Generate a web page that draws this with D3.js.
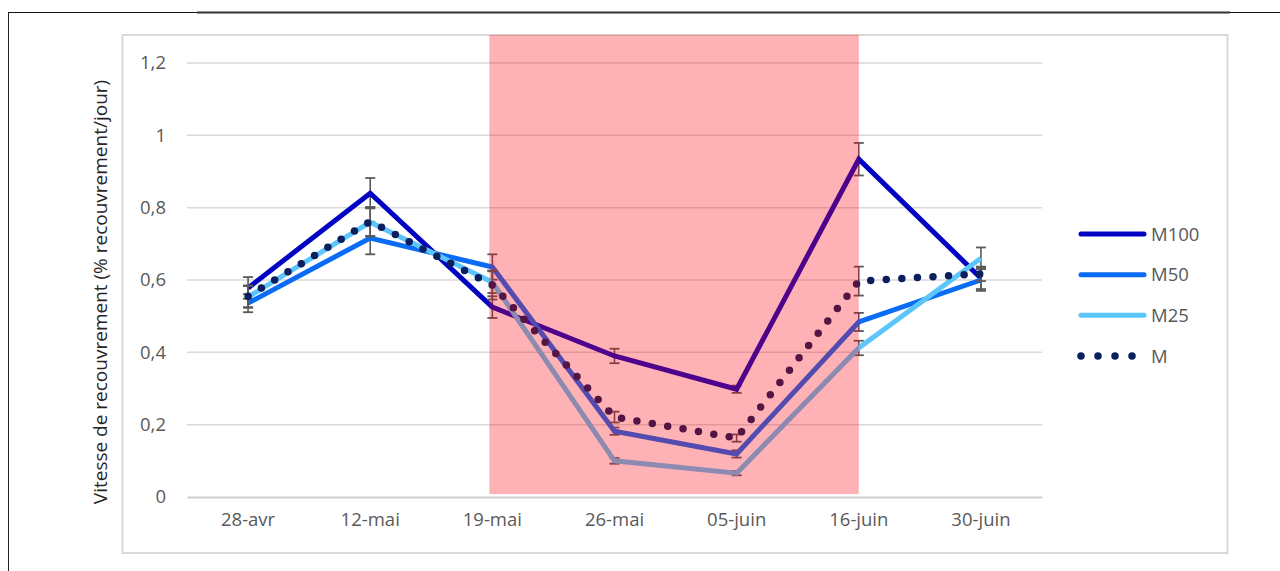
<!DOCTYPE html>
<html>
<head>
<meta charset="utf-8">
<script src="https://cdn.jsdelivr.net/npm/d3@7"></script>
<style>
  html, body { margin: 0; padding: 0; background: #fff; }
  svg { display: block; font-family: "Open Sans", "Noto Sans", sans-serif; }
</style>
</head>
<body>
<svg id="chart" width="1280" height="571"></svg>
<script>
// Sampling dates
const categories = ["28-avr", "12-mai", "19-mai", "26-mai", "05-juin", "16-juin", "30-juin"];

// Recovery rate (% recouvrement/jour) per treatment
const m100 = [0.578, 0.840, 0.525, 0.390, 0.298, 0.934, 0.605];
const m50  = [0.536, 0.716, 0.636, 0.182, 0.119, 0.484, 0.600];
const m25  = [0.553, 0.760, 0.594, 0.100, 0.066, 0.412, 0.660];
const m    = [0.555, 0.762, 0.586, 0.221, 0.163, 0.597, 0.617];

// Standard errors
const m100Err = [0.030, 0.042, 0.030, 0.020, 0.010, 0.045, 0.030];
const m50Err  = [0.025, 0.045, 0.035, 0.010, 0.010, 0.025, 0.030];
const m25Err  = [0.030, 0.040, 0.030, 0.008, 0.006, 0.020, 0.030];
const mErr    = [0.030, 0.040, 0.040, 0.015, 0.010, 0.040, 0.020];

const yTicks = [0, 0.2, 0.4, 0.6, 0.8, 1, 1.2];

// Shaded period, in category-index units (19-mai .. 16-juin)
const shadeFrom = 1.975;
const shadeTo = 5.0;
const shadeLow = 0.008;
const shadeHigh = 1.278;

const seriesNames = ["M100", "M50", "M25", "M"];
const seriesColors = ["#0202C2", "#0A6CF5", "#5CC6FA", "#0B1F5E"];

const series = [
  { name: seriesNames[0], values: m100, err: m100Err, color: seriesColors[0], dotted: false },
  { name: seriesNames[1], values: m50,  err: m50Err,  color: seriesColors[1], dotted: false },
  { name: seriesNames[2], values: m25,  err: m25Err,  color: seriesColors[2], dotted: false },
  { name: seriesNames[3], values: m,    err: mErr,    color: seriesColors[3], dotted: true }
];

const FONT = "'Open Sans', sans-serif";
const svg = d3.select("#chart");

// Outer page frame lines
svg.append("line").attr("x1", 8).attr("x2", 1280).attr("y1", 12.5).attr("y2", 12.5)
  .attr("stroke", "#111").attr("stroke-width", 1);
svg.append("line").attr("x1", 197).attr("x2", 1230).attr("y1", 12.5).attr("y2", 12.5)
  .attr("stroke", "#333").attr("stroke-width", 2.2);
svg.append("line").attr("x1", 8.5).attr("x2", 8.5).attr("y1", 12).attr("y2", 571)
  .attr("stroke", "#222").attr("stroke-width", 1);

// Chart container border
svg.append("rect").attr("x", 122.5).attr("y", 35).attr("width", 1105).attr("height", 518)
  .attr("fill", "#fff").attr("stroke", "#D9D9D9").attr("stroke-width", 2);

const x = d3.scaleBand().domain(categories).range([187, 1042]);
const cx = c => x(c) + x.bandwidth() / 2;
const xi = d3.scaleLinear().domain([0, categories.length - 1])
  .range([cx(categories[0]), cx(categories[categories.length - 1])]);
const y = d3.scaleLinear().domain([0, 1.2]).range([497, 63]);

// Y tick labels
const yAxis = d3.axisLeft(y).tickValues(yTicks).tickSize(0)
  .tickFormat(d => String(d).replace(".", ","));
const gy = svg.append("g").attr("transform", "translate(187,0)").call(yAxis);
gy.select(".domain").remove();
gy.selectAll(".tick text").attr("x", -21).attr("fill", "#595959")
  .style("font-size", "18.5px").style("font-family", FONT);

// Horizontal gridlines
svg.append("g").selectAll("line").data(yTicks.filter(d => d > 0)).join("line")
  .attr("x1", 187).attr("x2", 1042)
  .attr("y1", d => y(d)).attr("y2", d => y(d))
  .attr("stroke", "#D9D9D9").attr("stroke-width", 1.5);

// Category axis (baseline)
const xAxis = d3.axisBottom(x).tickSize(0).tickPadding(16);
const gx = svg.append("g").attr("transform", `translate(0,${y(0)})`).call(xAxis);
gx.select(".domain").attr("stroke", "#D0D0D0").attr("stroke-width", 1.8);
gx.selectAll(".tick text").attr("fill", "#595959")
  .style("font-size", "18.5px").style("font-family", FONT);

// Y axis title
svg.append("text")
  .attr("transform", `translate(107,${(y(0) + y(1.2)) / 2 + 12}) rotate(-90)`)
  .attr("text-anchor", "middle")
  .attr("fill", "#262626")
  .style("font-size", "19px")
  .style("font-family", FONT)
  .text("Vitesse de recouvrement (% recouvrement/jour)");

// Series lines with error bars
const line = d3.line().x((d, i) => cx(categories[i])).y(d => y(d));

series.forEach(s => {
  const g = svg.append("g");
  const capW = 5;
  s.values.forEach((v, i) => {
    const px = cx(categories[i]);
    const hi = y(v + s.err[i]), lo = y(v - s.err[i]);
    g.append("line").attr("x1", px).attr("x2", px).attr("y1", hi).attr("y2", lo)
      .attr("stroke", "#5A5A5A").attr("stroke-width", 1.6);
    [hi, lo].forEach(yy => g.append("line").attr("x1", px - capW).attr("x2", px + capW)
      .attr("y1", yy).attr("y2", yy).attr("stroke", "#5A5A5A").attr("stroke-width", 1.8));
  });
  const p = g.append("path").datum(s.values).attr("d", line)
    .attr("fill", "none").attr("stroke", s.color);
  if (s.dotted) {
    p.attr("stroke-width", 7.5).attr("stroke-linecap", "round")
      .attr("stroke-dasharray", "0 15.6");
  } else {
    p.attr("stroke-width", 5).attr("stroke-linejoin", "miter").attr("stroke-linecap", "butt");
  }
});

// Shaded period overlay (drawn on top, translucent)
svg.append("rect")
  .attr("x", xi(shadeFrom))
  .attr("width", xi(shadeTo) - xi(shadeFrom))
  .attr("y", y(shadeHigh))
  .attr("height", y(shadeLow) - y(shadeHigh))
  .attr("fill", "rgb(255,0,12)")
  .attr("fill-opacity", 0.3);

// Legend
const legend = svg.append("g");
const rowY = d3.scalePoint().domain(seriesNames).range([234, 356]);
series.forEach(s => {
  const ly = rowY(s.name);
  if (s.dotted) {
    legend.append("line").attr("x1", 1081).attr("x2", 1133).attr("y1", ly).attr("y2", ly)
      .attr("stroke", s.color).attr("stroke-width", 7.5).attr("stroke-linecap", "round")
      .attr("stroke-dasharray", "0 17");
  } else {
    legend.append("line").attr("x1", 1081).attr("x2", 1144).attr("y1", ly).attr("y2", ly)
      .attr("stroke", s.color).attr("stroke-width", 5).attr("stroke-linecap", "round");
  }
  legend.append("text").attr("x", 1151).attr("y", ly).attr("dy", "0.36em")
    .attr("fill", "#595959").style("font-size", "18.5px").style("font-family", FONT)
    .text(s.name);
});
</script>
</body>
</html>
